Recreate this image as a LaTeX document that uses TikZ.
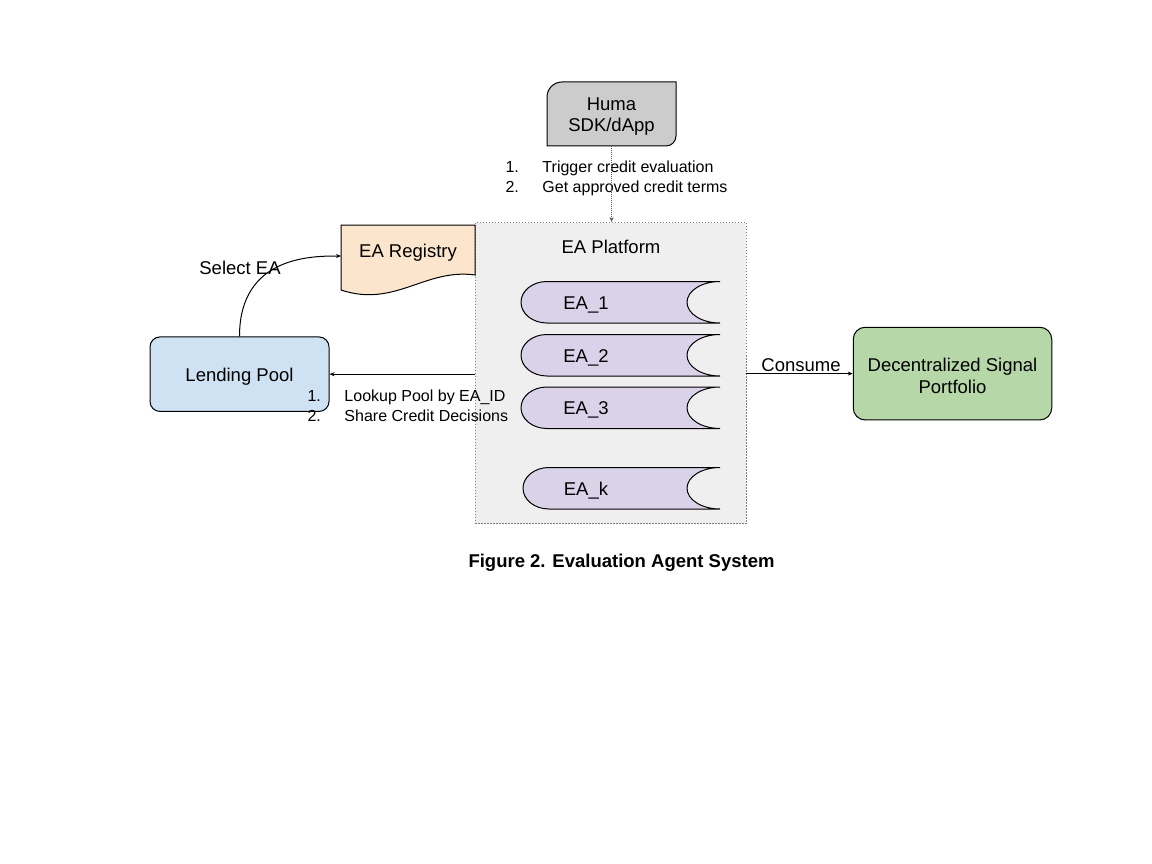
\documentclass[tikz,border=0pt]{standalone}
\usepackage{fontspec}
\setmainfont{Liberation Sans}
\usetikzlibrary{arrows.meta}
\definecolor{humagray}{HTML}{CCCCCC}
\definecolor{platgray}{HTML}{EFEFEF}
\definecolor{regpeach}{HTML}{FCE5CD}
\definecolor{ealilac}{HTML}{D9D2E9}
\definecolor{poolblue}{HTML}{CFE2F3}
\definecolor{portgreen}{HTML}{B6D7A8}
\newcommand\diagbig{\fontsize{18.5}{22}\selectfont}
\newcommand\diagsmall{\fontsize{16}{19.5}\selectfont}

\begin{document}
\begin{tikzpicture}[x=1pt, y=-1pt, line width=1pt,
   txt/.style={inner sep=0pt, font=\diagbig, align=center},
   lst/.style={inner sep=0pt, font=\diagsmall, align=left, anchor=west},
   arr/.style={-{Stealth[length=5pt, width=4pt]}},
   dotarr/.style={arr, densely dotted, gray!70!black},
   platbox/.style={draw=gray, dash pattern=on 1.5pt off 1.5pt, line width=0.8pt,
      fill=platgray, minimum width=271pt, minimum height=301pt, inner sep=0pt},
   roundbox/.style={txt, draw, rounded corners=10pt},
   eabody/.style={draw, fill=ealilac}]
   \useasboundingbox (0,0) rectangle (1152,864);

   % platform and its content
   \node[platbox] (plat) at (610.5,373) {};
   \node[txt] (plattitle) at (611,246.5) {EA Platform};
   \foreach \lbl/\xl/\yt in {1/521/281.5, 2/521/334.5, 3/521/387, k/523/467.5}{
      \pgfmathsetmacro\yb{\yt+41.5}
      \pgfmathsetmacro\ym{\yt+20.75}
      \draw[eabody] (\xl+26,\yt) -- (720,\yt)
         .. controls (701.8,\yt) and (687,\ym-11.5) .. (687,\ym)
         .. controls (687,\ym+11.5) and (701.8,\yb) .. (720,\yb)
         -- (\xl+26,\yb)
         .. controls (\xl+11.6,\yb) and (\xl,\ym+11.5) .. (\xl,\ym)
         .. controls (\xl,\ym-11.5) and (\xl+11.6,\yt) .. (\xl+26,\yt) -- cycle;
      \node[txt] (ea\lbl) at (586,\ym+2.5) {EA\_\lbl};
   }

   % registry
   \draw[fill=regpeach] (341,225) -- (475,225) -- (475,275)
      .. controls (425,268) and (395,308) .. (341,290) -- cycle;
   \node[txt] (reg) at (408,252.5) {EA Registry};

   % huma
   \draw[fill=humagray] (547,146) -- (547,97) .. controls (547,88.7) and (553.7,82) .. (562,82)
      -- (676,82) -- (676,136) .. controls (676,141.5) and (671.5,146) .. (666,146) -- cycle;
   \node[txt, font=\fontsize{18.5}{20.5}\selectfont] (huma) at (611.5,116.5) {Huma\\SDK/dApp};
   \coordinate (humabot) at (611.5,146);
   \node[lst, font=\fontsize{16}{20}\selectfont] (humalist) at (505,178)
      {\makebox[37pt][l]{1.}Trigger credit evaluation\\\makebox[37pt][l]{2.}Get approved credit terms};

   % pool and portfolio
   \node[roundbox, fill=poolblue, minimum width=179pt, minimum height=74.5pt,
      text depth=0pt, text height=14pt] (pool) at (239.5,374.2) {Lending Pool};
   \node[roundbox, fill=portgreen, minimum width=198.5pt, minimum height=92.7pt,
      rounded corners=12pt] (port) at (952.5,373.6) {};
   \node[txt] (porttext) at (952.5,375.5) {Decentralized Signal\\Portfolio};
   \node[lst] (poollist) at (307,406)
      {\makebox[37pt][l]{1.}Lookup Pool by EA\_ID\\\makebox[37pt][l]{2.}Share Credit Decisions};
   \node[txt] (selectea) at (240,267.5) {Select EA};
   \node[txt] (consume) at (801,365.5) {Consume};
   \node[txt, font=\diagbig\bfseries] (caption) at (621.5,562.5) {Figure 2. Evaluation Agent System};

   % connectors
   \coordinate (regin) at (341,256);
   \draw[dotarr] (humabot) -- (humabot |- plat.north);
   \draw[arr] (pool.north) .. controls +(0,-80) and +(-30,0) .. (regin);
   \draw[arr] (pool.east -| plat.west) -- (pool.east);
   \draw[arr] (port.west -| plat.east) -- (port.west);
\end{tikzpicture}
\end{document}
